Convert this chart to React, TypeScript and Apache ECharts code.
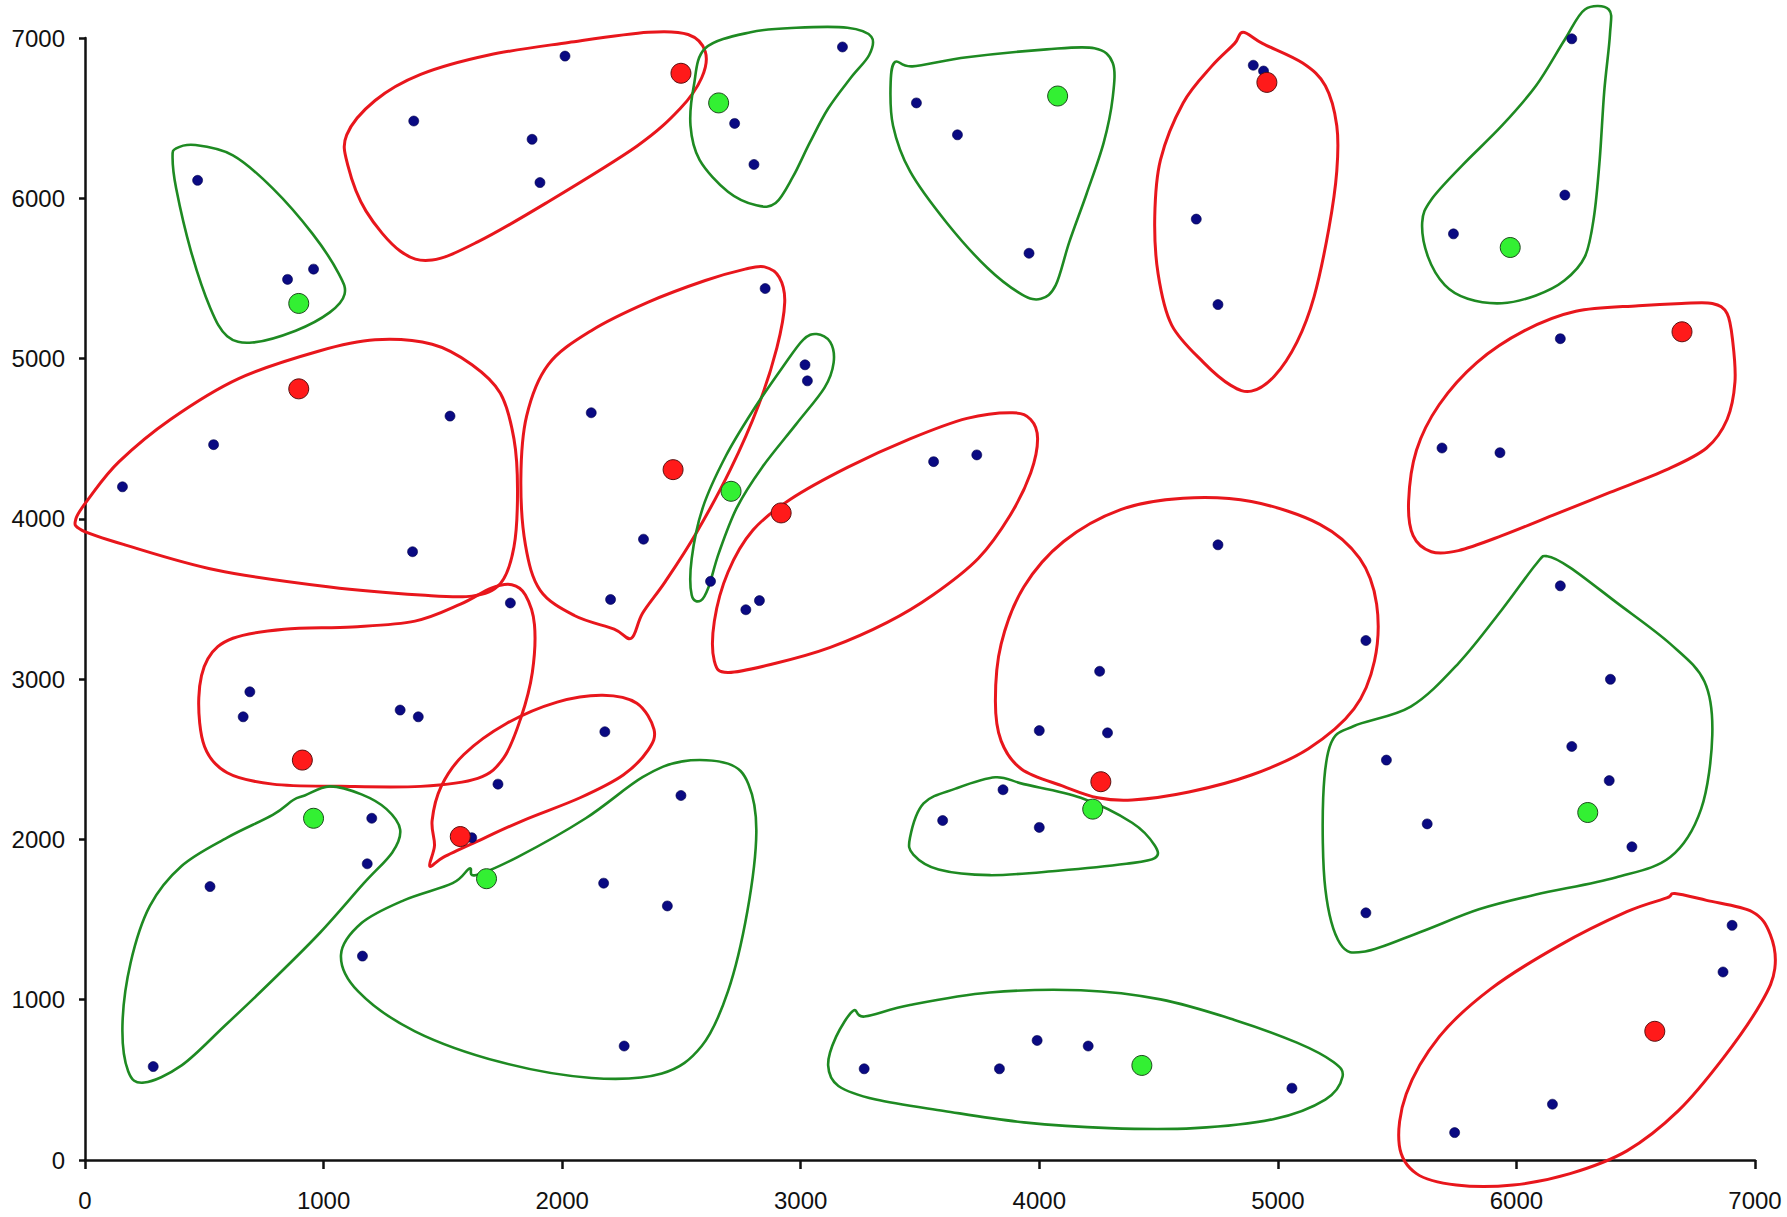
import React, { useEffect, useRef } from "react";
import * as echarts from "echarts";

// ---------- axis ticks ----------
const xTicks = [0, 1000, 2000, 3000, 4000, 5000, 6000, 7000];
const yTicks = [0, 1000, 2000, 3000, 4000, 5000, 6000, 7000];

// ---------- points ----------
const blueDots: number[][] = [
  [472, 6112], [849, 5494], [958, 5558], [539, 4463], [157, 4200], [1530, 4641], [1373, 3795],
  [1783, 3475], [691, 2921], [663, 2765], [1321, 2807], [1397, 2765], [1202, 2132], [1183, 1848],
  [524, 1706], [1163, 1272], [286, 583], [1621, 2011], [1731, 2345], [2179, 2672], [2498, 2274],
  [2174, 1727], [2441, 1585], [2260, 711], [1378, 6482], [2012, 6887], [1874, 6368], [1907, 6098],
  [2723, 6467], [2804, 6211], [3175, 6944], [3485, 6595], [3657, 6396], [3957, 5657], [4897, 6830],
  [4940, 6794], [4658, 5870], [4749, 5337], [6232, 6995], [6203, 6020], [5736, 5778], [6184, 5124],
  [5688, 4442], [5931, 4413], [2851, 5437], [2122, 4662], [2341, 3873], [2203, 3497], [3018, 4961],
  [3028, 4861], [2622, 3610], [2770, 3433], [2827, 3490], [3557, 4357], [3738, 4399], [4749, 3838],
  [5369, 3241], [4253, 3049], [4000, 2679], [4286, 2665], [3848, 2310], [3595, 2118], [4000, 2075],
  [6184, 3582], [6394, 2999], [5455, 2495], [6232, 2580], [6389, 2367], [5626, 2097], [6484, 1954],
  [5369, 1542], [6904, 1464], [6866, 1173], [6151, 348], [5741, 171], [3266, 569], [3833, 569],
  [3991, 746], [4205, 711], [5059, 448],
];
const redCentres: number[][] = [
  [896, 4811], [911, 2495], [1573, 2018], [2498, 6780], [4954, 6723], [6694, 5167],
  [2465, 4307], [2918, 4037], [4258, 2360], [6580, 803],
];
const greenCentres: number[][] = [
  [896, 5344], [958, 2132], [1683, 1755], [2656, 6595], [4077, 6638], [5974, 5693],
  [2708, 4172], [4224, 2189], [6299, 2168], [4430, 590],
];

// ---------- hand-drawn outlines (data units) ----------
const greenA = [[382, 6311], [463, 6332], [620, 6268], [787, 6062], [954, 5778], [1064, 5529], [1088, 5401], [1026, 5288], [883, 5174], [701, 5100], [596, 5140], [525, 5316], [444, 5671], [382, 6062], [367, 6254]];
const redB = [[1097, 6396], [1216, 6610], [1407, 6773], [1693, 6894], [2027, 6972], [2361, 7036], [2528, 7022], [2600, 6915], [2585, 6752], [2495, 6560], [2313, 6325], [1932, 5970], [1646, 5728], [1455, 5615], [1321, 5671], [1178, 5920], [1102, 6204]];
const greenC = [[2600, 6936], [2790, 7036], [2981, 7064], [3196, 7064], [3296, 7008], [3287, 6894], [3210, 6752], [3115, 6560], [3038, 6347], [2967, 6133], [2895, 5970], [2814, 5956], [2695, 6041], [2576, 6240], [2538, 6453], [2552, 6702]];
const greenD = [[3468, 6823], [3697, 6880], [4031, 6929], [4231, 6936], [4308, 6844], [4308, 6631], [4270, 6347], [4198, 6027], [4126, 5728], [4069, 5458], [4007, 5373], [3926, 5401], [3783, 5565], [3611, 5849], [3458, 6169], [3387, 6453], [3377, 6723], [3396, 6851]];
const redE = [[4854, 7036], [4937, 6965], [5104, 6844], [5199, 6702], [5247, 6453], [5247, 6169], [5214, 5813], [5152, 5387], [5080, 5103], [4985, 4890], [4889, 4797], [4803, 4833], [4689, 4975], [4555, 5209], [4498, 5529], [4484, 5885], [4508, 6240], [4603, 6595], [4722, 6823], [4818, 6965]];
const greenF = [[6287, 7178], [6201, 6986], [6082, 6702], [5939, 6453], [5772, 6204], [5643, 5991], [5605, 5849], [5629, 5636], [5700, 5458], [5796, 5373], [5939, 5345], [6082, 5394], [6201, 5487], [6287, 5636], [6325, 5885], [6349, 6240], [6368, 6666], [6392, 7022], [6387, 7178]];
const redG = [[6692, 5344], [6821, 5344], [6883, 5281], [6907, 5103], [6916, 4854], [6883, 4620], [6797, 4442], [6630, 4307], [6392, 4165], [6154, 4023], [5939, 3895], [5757, 3802], [5643, 3795], [5567, 3895], [5548, 4108], [5581, 4428], [5676, 4712], [5834, 4975], [6034, 5174], [6249, 5295], [6511, 5330]];
const redH = [[-38, 4001], [24, 4143], [143, 4357], [358, 4620], [644, 4875], [978, 5046], [1216, 5117], [1455, 5089], [1622, 4961], [1741, 4783], [1798, 4499], [1813, 4179], [1798, 3824], [1741, 3596], [1622, 3518], [1407, 3525], [1026, 3575], [549, 3681], [167, 3838], [-14, 3930]];
const redI = [[1789, 3589], [1846, 3525], [1884, 3340], [1875, 3042], [1827, 2758], [1755, 2509], [1646, 2381], [1407, 2331], [1073, 2331], [787, 2345], [596, 2416], [501, 2580], [477, 2885], [515, 3127], [620, 3255], [835, 3312], [1121, 3326], [1383, 3362], [1574, 3468], [1703, 3568]];
const redJ = [[2290, 3255], [2218, 3312], [2051, 3397], [1908, 3554], [1846, 3838], [1827, 4250], [1851, 4641], [1941, 4961], [2122, 5174], [2361, 5352], [2600, 5487], [2767, 5558], [2848, 5572], [2910, 5508], [2933, 5352], [2900, 5067], [2824, 4712], [2705, 4307], [2561, 3909], [2433, 3610], [2337, 3411]];
const greenK = [[3067, 5153], [3124, 5103], [3138, 4975], [3100, 4819], [2981, 4591], [2838, 4321], [2733, 4072], [2657, 3788], [2614, 3575], [2581, 3490], [2543, 3525], [2543, 3752], [2590, 4072], [2686, 4392], [2800, 4676], [2924, 4946], [3010, 5117]];
const redL = [[3888, 4662], [3964, 4620], [3993, 4499], [3964, 4286], [3878, 4023], [3744, 3753], [3554, 3525], [3363, 3354], [3124, 3198], [2895, 3099], [2695, 3042], [2638, 3113], [2638, 3362], [2695, 3667], [2800, 3930], [2957, 4122], [3196, 4321], [3458, 4499], [3697, 4627]];
const redM = [[4603, 4129], [4889, 4108], [5176, 3966], [5343, 3753], [5414, 3468], [5405, 3113], [5319, 2814], [5128, 2566], [4889, 2402], [4627, 2296], [4389, 2246], [4245, 2260], [4102, 2331], [3926, 2438], [3840, 2615], [3816, 2864], [3840, 3219], [3935, 3575], [4102, 3859], [4341, 4058]];
const greenN = [[3458, 2011], [3515, 2225], [3649, 2317], [3816, 2388], [3935, 2345], [4174, 2260], [4389, 2104], [4484, 1962], [4484, 1883], [4365, 1848], [4079, 1805], [3793, 1777], [3578, 1812], [3472, 1905]];
const greenO = [[6129, 3767], [6225, 3696], [6416, 3482], [6645, 3220], [6788, 2985], [6821, 2651], [6774, 2189], [6645, 1890], [6416, 1763], [6082, 1656], [5843, 1564], [5595, 1421], [5366, 1301], [5261, 1350], [5199, 1691], [5190, 2260], [5223, 2601], [5319, 2708], [5557, 2829], [5757, 3099], [5939, 3433], [6082, 3717]];
const redP = [[6664, 1663], [6797, 1620], [6988, 1549], [7064, 1407], [7083, 1194], [7026, 981], [6869, 640], [6678, 306], [6463, 57], [6225, -85], [5986, -156], [5748, -156], [5581, -85], [5509, 92], [5538, 412], [5676, 768], [5891, 1066], [6177, 1336], [6463, 1549], [6630, 1635]];
const greenQ = [[3267, 895], [3458, 967], [3792, 1045], [4174, 1059], [4508, 1002], [4818, 874], [5080, 732], [5233, 611], [5271, 519], [5199, 377], [4985, 256], [4651, 199], [4293, 199], [3935, 235], [3601, 306], [3315, 377], [3158, 462], [3115, 590], [3148, 768], [3220, 931]];
const greenR = [[873, 2246], [921, 2274], [1026, 2331], [1159, 2281], [1264, 2189], [1321, 2061], [1288, 1919], [1169, 1727], [987, 1421], [787, 1123], [587, 839], [405, 590], [248, 483], [181, 554], [157, 839], [191, 1229], [272, 1585], [405, 1834], [596, 2011], [787, 2153]];
const redS = [[1445, 1834], [1465, 1962], [1455, 2118], [1493, 2331], [1588, 2530], [1765, 2722], [1979, 2857], [2170, 2900], [2313, 2850], [2385, 2686], [2361, 2559], [2256, 2402], [2075, 2260], [1836, 2118], [1646, 1990], [1503, 1890]];
const greenT = [[1636, 1777], [1813, 1890], [2099, 2132], [2337, 2388], [2504, 2487], [2695, 2473], [2781, 2345], [2814, 2047], [2776, 1549], [2695, 1052], [2585, 711], [2418, 540], [2123, 512], [1741, 611], [1383, 803], [1145, 1052], [1073, 1279], [1159, 1478], [1336, 1620], [1541, 1727], [1612, 1819]];

const redOutlines = [redB, redE, redG, redH, redI, redJ, redL, redM, redP, redS];
const greenOutlines = [greenA, greenC, greenD, greenF, greenK, greenN, greenO, greenQ, greenR, greenT];

const RED_LINE = "#e8161c";
const GREEN_LINE = "#1e8a22";

// closed Catmull-Rom path through screen points given by the axis scales
function closedPath(px: number[][]): string {
  const n = px.length;
  const k = 1 / 6;
  let d = `M${px[0][0]},${px[0][1]}`;
  for (let i = 0; i < n; i++) {
    const p0 = px[(i - 1 + n) % n];
    const p1 = px[i];
    const p2 = px[(i + 1) % n];
    const p3 = px[(i + 2) % n];
    const c1x = p1[0] + (p2[0] - p0[0]) * k;
    const c1y = p1[1] + (p2[1] - p0[1]) * k;
    const c2x = p2[0] - (p3[0] - p1[0]) * k;
    const c2y = p2[1] - (p3[1] - p1[1]) * k;
    d += ` C${c1x},${c1y} ${c2x},${c2y} ${p2[0]},${p2[1]}`;
  }
  return d + " Z";
}

export default function App() {
  const ref = useRef<HTMLDivElement>(null);
  useEffect(() => {
    if (!ref.current) return;
    const chart = echarts.init(ref.current, undefined, { renderer: "svg" });

    const outlineSeries = (outlines: number[][][], color: string, width: number) => ({
      type: "custom",
      coordinateSystem: "cartesian2d",
      data: outlines.map((o) => o[0]),
      clip: false,
      silent: true,
      z: 2,
      renderItem: (params: any, api: any) => {
        const pts = outlines[params.dataIndex];
        const px = pts.map((p) => api.coord(p));
        return {
          type: "path",
          shape: { pathData: closedPath(px) },
          style: { stroke: color, lineWidth: width, fill: "none" },
          silent: true,
        };
      },
    });

    const series: any[] = [
      outlineSeries(redOutlines, RED_LINE, 3),
      outlineSeries(greenOutlines, GREEN_LINE, 2.6),
      {
        type: "scatter",
        data: blueDots,
        symbol: "circle",
        symbolSize: 10,
        z: 5,
        itemStyle: { color: "#0a0a82", borderColor: "#00004a", borderWidth: 0.6, opacity: 1 },
      },
      {
        type: "scatter",
        data: redCentres,
        symbol: "circle",
        symbolSize: 20,
        z: 6,
        itemStyle: { color: "#ff1a1a", borderColor: "#5a1010", borderWidth: 1, opacity: 1 },
      },
      {
        type: "scatter",
        data: greenCentres,
        symbol: "circle",
        symbolSize: 20,
        z: 6,
        itemStyle: { color: "#33f033", borderColor: "#1f4a1f", borderWidth: 1, opacity: 1 },
      },
    ];

    const labelStyle = {
      fontSize: 24,
      color: "#111",
      fontFamily: "Liberation Sans, Arial, sans-serif",
      formatter: (v: number) => String(v),
    };

    chart.setOption({
      animation: false,
      backgroundColor: "#ffffff",
      grid: { left: 85, right: 32, top: 38, bottom: 57, containLabel: false },
      xAxis: {
        type: "value",
        min: xTicks[0],
        max: xTicks[xTicks.length - 1],
        interval: xTicks[1] - xTicks[0],
        axisLine: { show: true, onZero: false, lineStyle: { color: "#111", width: 2.5 } },
        axisTick: { show: true, length: 9, lineStyle: { color: "#111", width: 2.5 } },
        splitLine: { show: false },
        axisLabel: { ...labelStyle, margin: 28 },
      },
      yAxis: {
        type: "value",
        min: yTicks[0],
        max: yTicks[yTicks.length - 1],
        interval: yTicks[1] - yTicks[0],
        axisLine: { show: true, onZero: false, lineStyle: { color: "#111", width: 2.5 } },
        axisTick: { show: true, length: 6, lineStyle: { color: "#111", width: 2.5 } },
        splitLine: { show: false },
        axisLabel: { ...labelStyle, margin: 20 },
      },
      series,
    });
    return () => chart.dispose();
  }, []);

  return (
    <div
      ref={ref}
      style={{ position: "fixed", left: 0, top: 0, width: 1787, height: 1217, background: "#fff" }}
    />
  );
}
